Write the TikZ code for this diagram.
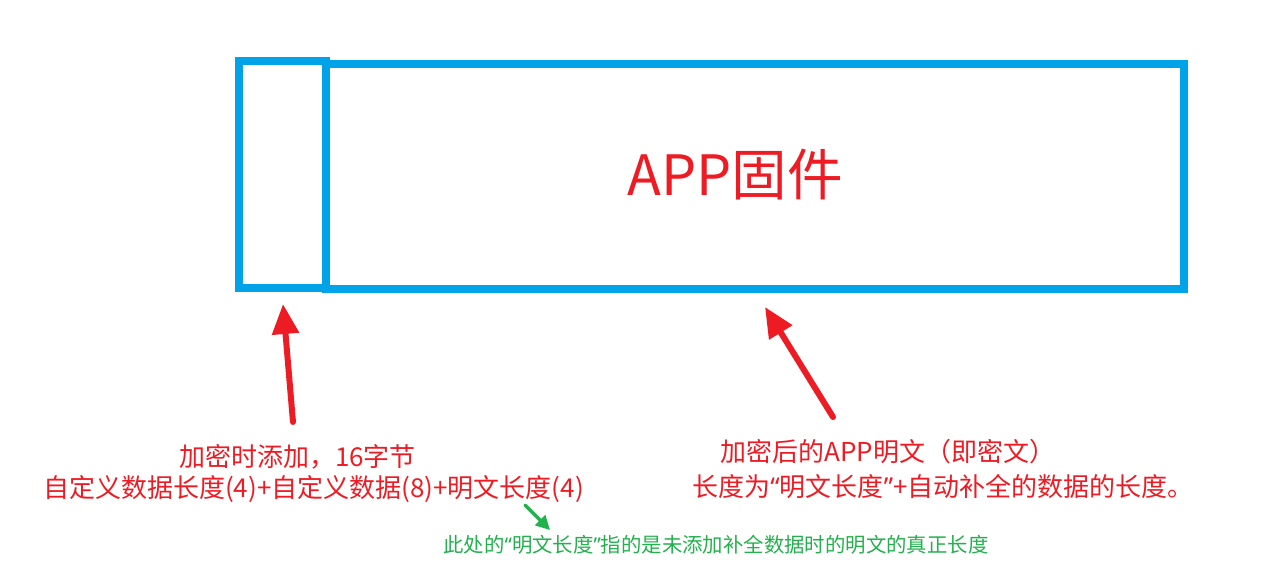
\documentclass[tikz,border=0pt]{standalone}
\usepackage{fontspec}
\setmainfont{Noto Sans CJK SC}
\newfontfamily\latinq{Noto Sans}
\usetikzlibrary{arrows.meta,positioning}
\definecolor{boxblue}{HTML}{00A2E8}
\definecolor{notered}{HTML}{ED1C24}
\definecolor{notegreen}{HTML}{22B14C}
\newcommand{\openq}{{\latinq “}}
\newcommand{\closeq}{{\latinq ”}}

\begin{document}
\begin{tikzpicture}[
  x=0.5pt, y=-0.5pt,
  fwbox/.style={draw=boxblue, line width=4pt, inner sep=0pt},
  redtxt/.style={font=\fontsize{13}{15}\selectfont, text=notered, inner sep=0pt},
  greentxt/.style={font=\fontsize{10.2}{12}\selectfont, text=notegreen, inner sep=0pt},
  redarrow/.style={-{Triangle[length=15pt, width=13pt]}, line width=3pt, draw=notered, line cap=round},
  greenarrow/.style={-{Triangle[length=7pt, width=7pt]}, line width=1.6pt, draw=notegreen, line cap=round},
]
\useasboundingbox (0,0) rectangle (1280,577);

\node[fwbox, minimum width=43.5pt, minimum height=113.5pt] (hdr) at (282.5,174.5) {};
\node[fwbox, minimum width=429pt, minimum height=112.5pt] (app) at (755,176.5) {};
\node[font=\fontsize{27.8}{30}\selectfont, text=notered, inner sep=0pt] (appText) at (735,175) {APP固件};

\node[redtxt] (hdrLine1) at (297.5,457) {加密时添加，16字节};
\node[redtxt] (hdrLine2) at (313.5,489) {自定义数据长度(4)+自定义数据(8)+明文长度(4)};

\node[redtxt] (appLine1) at (888,452) {加密后的APP明文（即密文）};
\node[redtxt] (appLine2) at (943,487) {长度为\openq 明文长度\closeq+自动补全的数据的长度。};

\node[greentxt] (lenNote) at (716,545) {此处的\openq 明文长度\closeq 指的是未添加补全数据时的明文的真正长度};

\coordinate (hdrTail) at (293,422);
\coordinate (hdrTip) at (283,304);
\coordinate (appTail) at (833,417);
\coordinate (appTip) at (765,307);
\coordinate (noteTail) at (525,505);
\coordinate (noteTip) at (550,530);

\draw[redarrow] (hdrTail) -- (hdrTip);
\draw[redarrow] (appTail) -- (appTip);
\draw[greenarrow] (noteTail) -- (noteTip);

\end{tikzpicture}
\end{document}
